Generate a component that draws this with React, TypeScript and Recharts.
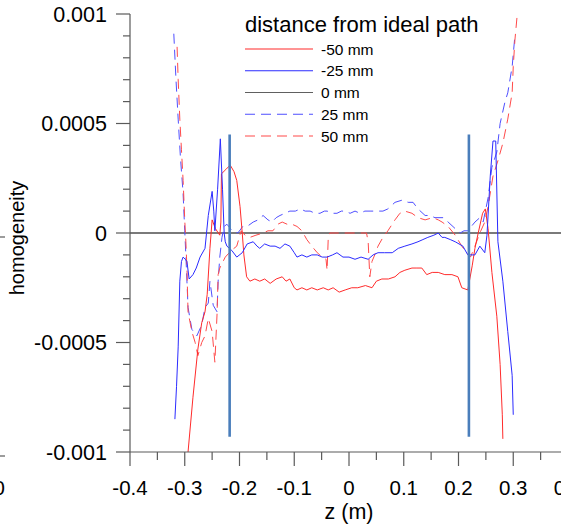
import { Label, Legend, Line, LineChart, XAxis, YAxis } from "recharts";

type Pt = [number, number];

// z (m) vs homogeneity
const minus50: Pt[] = [
  [-0.294, -0.001], [-0.285, -0.00075], [-0.276, -0.00053], [-0.269, -0.00041], [-0.263, -0.00036],
  [-0.259, -0.00028], [-0.254, -0.00007], [-0.25, 0.00006], [-0.244, 0.00002], [-0.236, -0.00001],
  [-0.234, 0.00005], [-0.233, 0.00027], [-0.225, 0.00029], [-0.217, 0.00031], [-0.21, 0.00028],
  [-0.205, 0.00024], [-0.199, 0.00012], [-0.195, 0.0], [-0.192, -0.0001], [-0.187, -0.0002],
  [-0.181, -0.00022], [-0.172, -0.00021], [-0.163, -0.00022], [-0.154, -0.00021], [-0.144, -0.00023],
  [-0.133, -0.00021], [-0.122, -0.0002], [-0.115, -0.00022], [-0.108, -0.00021], [-0.1, -0.00025],
  [-0.095, -0.00026], [-0.086, -0.00025], [-0.077, -0.00026], [-0.068, -0.00025], [-0.058, -0.00026],
  [-0.047, -0.00025], [-0.038, -0.00026], [-0.029, -0.00025], [-0.018, -0.00027], [-0.007, -0.00026],
  [0.005, -0.00025], [0.016, -0.00025], [0.03, -0.00024], [0.042, -0.00025], [0.05, -0.00022],
  [0.06, -0.00021], [0.072, -0.00021], [0.084, -0.0002], [0.093, -0.00018], [0.102, -0.00017],
  [0.115, -0.00016], [0.124, -0.00016], [0.133, -0.00016], [0.142, -0.00019], [0.152, -0.00018],
  [0.163, -0.00018], [0.175, -0.00019], [0.188, -0.00019], [0.199, -0.0002], [0.206, -0.00025],
  [0.217, -0.00026], [0.225, -0.00015], [0.23, -0.00007], [0.236, 0.0], [0.244, 0.00009],
  [0.249, 0.00011], [0.254, 0.00002], [0.261, -0.00018], [0.27, -0.00038], [0.276, -0.0006],
  [0.28, -0.00083], [0.281, -0.00094],
];

const minus25: Pt[] = [
  [-0.318, -0.00085], [-0.315, -0.0007], [-0.312, -0.00052], [-0.309, -0.00022], [-0.306, -0.00013],
  [-0.303, -0.00011], [-0.299, -0.00012], [-0.296, -0.00013], [-0.292, -0.00021], [-0.285, -0.00019],
  [-0.279, -0.00016], [-0.272, -0.00011], [-0.263, -0.00007], [-0.257, 0.00008], [-0.25, 0.00019],
  [-0.247, 0.0001], [-0.245, 0.00001], [-0.24, 0.0002], [-0.235, 0.00043], [-0.231, 0.0002],
  [-0.228, 0.0], [-0.226, -0.00004], [-0.223, -0.00006], [-0.214, -0.00008], [-0.205, -0.00011],
  [-0.195, -0.00009], [-0.186, -0.00005], [-0.175, -0.00004], [-0.168, -0.00006], [-0.163, -0.00007],
  [-0.154, -0.00005], [-0.144, -0.00006], [-0.135, -0.00006], [-0.126, -0.00007], [-0.117, -0.00005],
  [-0.108, -0.00006], [-0.1, -0.00009], [-0.095, -0.00011], [-0.086, -0.0001], [-0.077, -0.00011],
  [-0.068, -0.0001], [-0.058, -0.0001], [-0.049, -0.00011], [-0.04, -0.00011], [-0.03, -0.0001],
  [-0.022, -0.00009], [-0.011, -0.00011], [0.0, -0.00011], [0.011, -0.00012], [0.022, -0.00011],
  [0.035, -0.00012], [0.044, -0.0001], [0.053, -0.00009], [0.065, -0.00009], [0.079, -0.00009],
  [0.09, -0.00007], [0.102, -0.00006], [0.115, -0.00005], [0.126, -0.00004], [0.135, -0.00003],
  [0.144, -0.00002], [0.155, -0.00001], [0.163, 0.0], [0.17, -0.00002], [0.175, -0.00002],
  [0.185, -0.00003], [0.194, -0.00004], [0.208, -0.00006], [0.217, -0.0001], [0.23, -0.0001],
  [0.239, -0.00006], [0.248, -0.00009], [0.252, -0.00001], [0.258, 0.00026], [0.263, 0.00042],
  [0.268, 0.00042], [0.272, -0.00004], [0.281, -0.00022], [0.29, -0.00045], [0.298, -0.00065],
  [0.3, -0.00083],
];

const zeroPath: Pt[] = [[-0.4, 0], [0.4, 0]];

const plus25: Pt[] = [
  [-0.32, 0.00091], [-0.316, 0.0007], [-0.312, 0.00052], [-0.308, 0.00035], [-0.303, 0.00018],
  [-0.3, 0.00001], [-0.298, -0.0001], [-0.294, -0.00034], [-0.287, -0.00044], [-0.278, -0.00047],
  [-0.269, -0.00042], [-0.263, -0.00034], [-0.257, -0.00032], [-0.254, -0.00022], [-0.248, -0.00033],
  [-0.241, -0.00036], [-0.239, -0.00022], [-0.236, -0.00011], [-0.232, -0.00002], [-0.228, 0.00003],
  [-0.223, 0.00004], [-0.213, 0.00001], [-0.203, 0.0], [-0.194, 0.00003], [-0.186, 0.00003],
  [-0.175, 0.00005], [-0.166, 0.00006], [-0.157, 0.00008], [-0.148, 0.00006], [-0.141, 0.00005],
  [-0.133, 0.00007], [-0.126, 0.00008], [-0.117, 0.00009], [-0.108, 0.0001], [-0.098, 0.0001],
  [-0.089, 0.00011], [-0.08, 0.0001], [-0.071, 0.0001], [-0.062, 0.00009], [-0.053, 0.00009],
  [-0.045, 0.0001], [-0.04, 0.0001], [-0.03, 0.00009], [-0.022, 0.00009], [-0.014, 0.0001],
  [-0.007, 0.0001], [0.002, 0.00009], [0.011, 0.0001], [0.02, 0.00009], [0.029, 0.0001],
  [0.04, 0.0001], [0.053, 0.0001], [0.062, 0.0001], [0.071, 0.00011], [0.084, 0.00014],
  [0.097, 0.00015], [0.108, 0.00014], [0.117, 0.00014], [0.126, 0.00011], [0.139, 0.00008],
  [0.148, 0.00008], [0.157, 0.00007], [0.172, 0.00007], [0.181, 0.00005], [0.194, 0.00002],
  [0.203, 0.0], [0.21, 0.00001], [0.217, 0.00001], [0.23, 0.00005], [0.239, 0.00007],
  [0.245, 0.00005], [0.254, 0.00016], [0.261, 0.0003], [0.27, 0.00037], [0.276, 0.0005],
  [0.285, 0.0006], [0.29, 0.00064], [0.298, 0.00076], [0.303, 0.0009],
];

const plus50: Pt[] = [
  [-0.314, 0.00085], [-0.312, 0.0007], [-0.309, 0.00052], [-0.306, 0.00038], [-0.303, 0.00024],
  [-0.3, 0.00006], [-0.298, -0.00004], [-0.296, -0.00016], [-0.294, -0.00036], [-0.287, -0.00045],
  [-0.281, -0.0005], [-0.276, -0.00056], [-0.269, -0.0005], [-0.263, -0.00047], [-0.257, -0.00039],
  [-0.25, -0.00045], [-0.245, -0.00059], [-0.241, -0.00037], [-0.239, -0.00019], [-0.236, -0.00016],
  [-0.226, -0.00011], [-0.215, -0.00008], [-0.205, -0.00006], [-0.197, 0.00001], [-0.19, -0.00001],
  [-0.181, -0.00002], [-0.17, -0.00001], [-0.157, 0.0], [-0.148, 0.00001], [-0.139, 0.00001],
  [-0.13, 0.00004], [-0.122, 0.00005], [-0.113, 0.00004], [-0.104, 0.00004], [-0.095, 0.00003],
  [-0.086, 0.00001], [-0.077, -0.00003], [-0.068, -0.00006], [-0.058, -0.00009], [-0.049, -0.00011],
  [-0.042, -0.00012], [-0.04, -0.00017], [-0.038, -0.00003], [-0.035, 0.0], [-0.01, 0.0],
  [0.01, 0.0], [0.032, 0.0], [0.035, -0.00004], [0.038, -0.0002], [0.042, -0.00013],
  [0.047, -0.0001], [0.053, -0.00006], [0.062, -0.00002], [0.071, 0.00001], [0.084, 0.00006],
  [0.093, 0.00009], [0.102, 0.0001], [0.115, 0.00009], [0.126, 0.00007], [0.139, 0.00006],
  [0.153, 0.00007], [0.163, 0.00006], [0.17, 0.00005], [0.181, 0.00003], [0.194, -0.00001],
  [0.206, -0.00006], [0.215, -0.00009], [0.222, -0.00011], [0.23, -0.00006], [0.239, 0.0],
  [0.248, 0.00005], [0.254, 0.00012], [0.263, 0.00026], [0.272, 0.00033], [0.281, 0.00041],
  [0.29, 0.00052], [0.298, 0.00064], [0.3, 0.00076], [0.303, 0.00088], [0.307, 0.00099],
];

// the two vertical markers
const leftMarker: Pt[] = [[-0.218, 0.00045], [-0.218, -0.00093]];
const rightMarker: Pt[] = [[0.219, 0.00045], [0.219, -0.00093]];

const seriesNames = ["-50 mm", "-25 mm", "0 mm", "25 mm", "50 mm"];
const legendTitle = "distance from ideal path";

const xMajorTicks = [-0.4, -0.3, -0.2, -0.1, 0, 0.1, 0.2, 0.3, 0.4];
const xMajorLabels = ["-0.4", "-0.3", "-0.2", "-0.1", "0", "0.1", "0.2", "0.3", "0.4"];
const xMinorTicks = [-0.35, -0.25, -0.15, -0.05, 0.05, 0.15, 0.25, 0.35];

const yMajorTicks = [-0.001, -0.0005, 0, 0.0005, 0.001];
const yMajorLabels = ["-0.001", "-0.0005", "0", "0.0005", "0.001"];
const yMinorTicks = [
  -0.0009, -0.0008, -0.0007, -0.0006, -0.0004, -0.0003, -0.0002, -0.0001,
  0.0001, 0.0002, 0.0003, 0.0004, 0.0006, 0.0007, 0.0008, 0.0009,
];

const FONT = "'Liberation Sans', Arial, sans-serif";
const AXIS = "#5a5a5a";
const RED = "#ff2b2b";
const BLUE = "#2b2bff";
const RED_D = "#ff4a4a";
const BLUE_D = "#4f4fff";
const GREY = "#7a7a7a";
const MARKER = "#4a7ebb";
const DASH = "10 6";

const legendStyles = [
  { color: RED, dash: undefined },
  { color: BLUE, dash: undefined },
  { color: "#606060", dash: undefined },
  { color: BLUE_D, dash: DASH },
  { color: RED_D, dash: DASH },
];

const toRows = (pts: Pt[]) => pts.map(([z, h]) => ({ z, h }));

function findMajor(list: number[], v: number) {
  return list.findIndex((t) => Math.abs(t - v) < 1e-9);
}

function XTick(props: any) {
  const { x, y, payload } = props;
  const idx = findMajor(xMajorTicks, payload.value);
  return (
    <g>
      <line x1={x} y1={y} x2={x} y2={y + (idx >= 0 ? 14 : 8)} stroke={AXIS} strokeWidth={1.2} />
      {idx >= 0 && (
        <text x={x} y={y + 43} textAnchor="middle" fontSize={20.5} fill="#000" fontFamily={FONT}>
          {xMajorLabels[idx]}
        </text>
      )}
    </g>
  );
}

function YTick(props: any) {
  const { x, y, payload } = props;
  const idx = findMajor(yMajorTicks, payload.value);
  return (
    <g>
      <line x1={x - (idx >= 0 ? 14 : 7)} y1={y} x2={x} y2={y} stroke={AXIS} strokeWidth={1.2} />
      {idx >= 0 && (
        <text x={x - 23} y={y + 7.5} textAnchor="end" fontSize={21.5} fill="#000" fontFamily={FONT}>
          {yMajorLabels[idx]}
        </text>
      )}
    </g>
  );
}

function LegendBox() {
  return (
    <svg width={260} height={140} style={{ display: "block", overflow: "visible" }}>
      <text x={5} y={22} fontSize={22} fill="#000" fontFamily={FONT}>
        {legendTitle}
      </text>
      {seriesNames.map((name, i) => {
        const y = 39 + i * 21.75;
        return (
          <g key={name}>
            <line
              x1={5}
              x2={73}
              y1={y}
              y2={y}
              stroke={legendStyles[i].color}
              strokeWidth={1.1}
              strokeDasharray={legendStyles[i].dash}
            />
            <text x={81} y={y + 5.5} fontSize={15.5} fill="#000" fontFamily={FONT}>
              {name}
            </text>
          </g>
        );
      })}
    </svg>
  );
}

export default function App() {
  const ticksX = [...xMajorTicks, ...xMinorTicks].sort((a, b) => a - b);
  const ticksY = [...yMajorTicks, ...yMinorTicks].sort((a, b) => a - b);

  return (
    <div
      style={{
        position: "fixed",
        left: 0,
        top: 0,
        width: 561,
        height: 529,
        overflow: "hidden",
        background: "#fff",
        fontFamily: FONT,
      }}
    >
      <LineChart width={600} height={529} margin={{ top: 14, right: 32, bottom: 0, left: 0 }}>
        <XAxis
          type="number"
          dataKey="z"
          domain={[-0.4, 0.4]}
          ticks={ticksX}
          interval={0}
          allowDataOverflow
          tickSize={0}
          tickMargin={0}
          tickLine={false}
          tick={<XTick />}
          height={77}
          axisLine={{ stroke: AXIS, strokeWidth: 1.2 }}
        >
          <Label
            content={() => (
              <text x={349} y={519} textAnchor="middle" fontSize={21.5} fill="#000" fontFamily={FONT}>
                z (m)
              </text>
            )}
          />
        </XAxis>
        <YAxis
          type="number"
          dataKey="h"
          domain={[-0.001, 0.001]}
          ticks={ticksY}
          interval={0}
          allowDataOverflow
          tickSize={0}
          tickMargin={0}
          tickLine={false}
          tick={<YTick />}
          width={130}
          axisLine={{ stroke: AXIS, strokeWidth: 1.2 }}
        >
          <Label
            content={() => (
              <text
                x={24}
                y={238}
                transform="rotate(-90 24 238)"
                textAnchor="middle"
                fontSize={20}
                fill="#000"
                fontFamily={FONT}
              >
                homogeneity
              </text>
            )}
          />
        </YAxis>
        <Legend
          layout="vertical"
          align="center"
          verticalAlign="middle"
          content={() => <LegendBox />}
          wrapperStyle={{ left: 240, top: 10, width: 260, height: 140 }}
        />
        <Line data={toRows(zeroPath)} dataKey="h" stroke={GREY} strokeWidth={1.8} dot={false} activeDot={false} isAnimationActive={false} />
        <Line data={toRows(plus25)} dataKey="h" stroke={BLUE_D} strokeWidth={1} strokeDasharray={DASH} dot={false} activeDot={false} isAnimationActive={false} />
        <Line data={toRows(plus50)} dataKey="h" stroke={RED_D} strokeWidth={1} strokeDasharray={DASH} dot={false} activeDot={false} isAnimationActive={false} />
        <Line data={toRows(minus50)} dataKey="h" stroke={RED} strokeWidth={1} dot={false} activeDot={false} isAnimationActive={false} />
        <Line data={toRows(minus25)} dataKey="h" stroke={BLUE} strokeWidth={1} dot={false} activeDot={false} isAnimationActive={false} />
        <Line data={toRows(leftMarker)} dataKey="h" stroke={MARKER} strokeWidth={2.6} dot={false} activeDot={false} isAnimationActive={false} />
        <Line data={toRows(rightMarker)} dataKey="h" stroke={MARKER} strokeWidth={2.6} dot={false} activeDot={false} isAnimationActive={false} />
      </LineChart>
      {/* bits of the neighbouring panel that show at the left edge */}
      <svg width={561} height={529} style={{ position: "absolute", left: 0, top: 0, pointerEvents: "none" }}>
        <line x1={0} x2={5} y1={237} y2={237} stroke={AXIS} strokeWidth={1.2} />
        <line x1={0} x2={5} y1={456} y2={456} stroke={AXIS} strokeWidth={1.2} />
        <text x={5} y={495} textAnchor="end" fontSize={20.5} fill="#000" fontFamily={FONT}>
          0
        </text>
      </svg>
    </div>
  );
}
